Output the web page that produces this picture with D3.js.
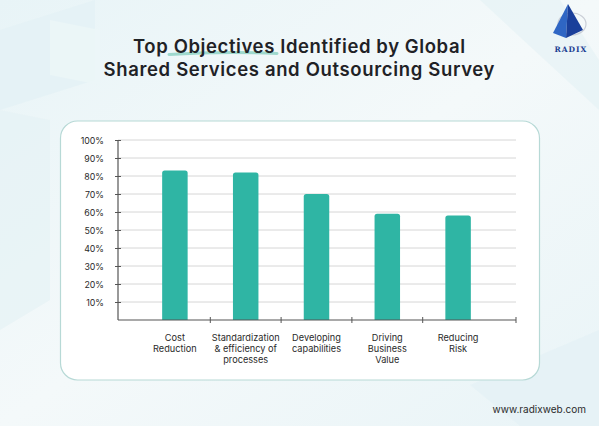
<!DOCTYPE html>
<html lang="en">
<head>
<meta charset="utf-8">
<title>Top Objectives</title>
<style>
body{
  margin: 0;
  background: #eef7f9;
}
svg text{
  font-family: "Inter", "Open Sans", sans-serif;
}
.title{
  font-size: 18.5px;
  font-weight: 600;
  fill: #1f2226;
  text-anchor: middle;
}
.ylab{
  fill: #2a2a2a;
  text-anchor: end;
}
.xlab{
  font-size: 9.2px;
  fill: #2a2a2a;
  text-anchor: middle;
}
</style>
</head>
<body>
<div id="chart"></div>
<script src="https://d3js.org/d3.v7.min.js"></script>
<script>
var categories = [
  ["Cost", "Reduction"],
  ["Standardization", "& efficiency of", "processes"],
  ["Developing", "capabilities"],
  ["Driving", "Business", "Value"],
  ["Reducing", "Risk"]
];
var values = [83, 82, 70, 59, 58];
var yTicks = [10, 20, 30, 40, 50, 60, 70, 80, 90, 100];
var titleLines = ["Top Objectives Identified by Global", "Shared Services and Outsourcing Survey"];
var titleWidths = [332, 391];

var W = 599, H = 426;
var svg = d3.select("#chart").append("svg")
  .attr("width", W)
  .attr("height", H)
  .style("display", "block");

// background
var defs = svg.append("defs");
var bg = defs.append("linearGradient").attr("id", "bg")
  .attr("x1", 0).attr("y1", 0).attr("x2", 1).attr("y2", 1);
bg.append("stop").attr("offset", 0).attr("stop-color", "#e8f4f7");
bg.append("stop").attr("offset", 0.5).attr("stop-color", "#f4f9fa");
bg.append("stop").attr("offset", 1).attr("stop-color", "#e9f4f7");
svg.append("rect").attr("width", W).attr("height", H).attr("fill", "url(#bg)");

// faint shapes
svg.append("path").attr("d", "M0,30 L95,0 L95,80 L0,110 Z").attr("fill", "#e3f1f5").attr("opacity", 0.8);
svg.append("path").attr("d", "M50,20 L100,30 L100,85 L50,75 Z").attr("fill", "#ecf6f8").attr("opacity", 0.8);
svg.append("path").attr("d", "M0,110 L50,120 L50,300 L0,330 Z").attr("fill", "#e5f2f5").attr("opacity", 0.7);
svg.append("path").attr("d", "M480,0 L560,0 L599,60 L599,110 Z").attr("fill", "#e6f2f5").attr("opacity", 0.7);
svg.append("path").attr("d", "M470,385 L599,330 L599,426 L520,426 Z").attr("fill", "#e4f1f5").attr("opacity", 0.7);

// title
var title = svg.append("g");
title.append("path")
  .attr("d", "M169,54.5 Q223,51 277,53.5")
  .attr("fill", "none").attr("stroke", "#9ed8cd").attr("stroke-width", 3)
  .attr("stroke-linecap", "round");
title.selectAll("text").data(titleLines).enter().append("text")
  .attr("class", "title")
  .attr("x", 299)
  .attr("y", (d, i) => 53 + i * 22.5)
  .attr("textLength", (d, i) => titleWidths[i])
  .attr("lengthAdjust", "spacing")
  .text((d) => d);

// logo
var logo = svg.append("g");
logo.append("ellipse").attr("cx", 572).attr("cy", 24).attr("rx", 14).attr("ry", 11)
  .attr("fill", "none").attr("stroke", "#c9ced6").attr("stroke-width", 1.2);
logo.append("path").attr("d", "M568,4 L553,33 L566,38 Z").attr("fill", "#2f66c4");
logo.append("path").attr("d", "M568,4 L566,38 L583,30 Z").attr("fill", "#1a3f9a");
logo.append("text").attr("x", 571).attr("y", 52)
  .attr("text-anchor", "middle")
  .style("font-family", "'DejaVu Serif', serif")
  .style("font-weight", "bold").style("font-size", "7.5px")
  .style("letter-spacing", "1px").attr("fill", "#1d3f93")
  .text("RADIX");

// card
svg.append("rect")
  .attr("x", 60.5).attr("y", 121).attr("width", 479).attr("height", 259)
  .attr("rx", 17).attr("fill", "#ffffff")
  .attr("stroke", "#b7d9d6").attr("stroke-width", 1.2);

// scales
var y = d3.scaleLinear().domain([0, 100]).range([320, 140]);
var x = d3.scaleBand()
  .domain(d3.range(categories.length))
  .range([139.5, 493.5])
  .padding(0);
var barW = x.bandwidth() * 0.36;
var axisLeft = 118, axisRight = 516;

var graph = svg.append("g");

// gridlines
graph.selectAll("line.grid").data(yTicks).enter().append("line")
  .attr("class", "grid")
  .attr("x1", axisLeft).attr("x2", axisRight)
  .attr("y1", (d) => y(d)).attr("y2", (d) => y(d))
  .attr("stroke", "#d6d6d6").attr("stroke-width", 1);

// y axis
var yAxis = d3.axisLeft(y).tickValues(yTicks).tickSize(3).tickFormat((d) => d + "%");
var yG = graph.append("g").attr("transform", `translate(${axisLeft},0)`).call(yAxis);
yG.select(".domain").remove();
yG.selectAll(".tick line").attr("x2", -3).attr("x1", 3).attr("stroke", "#555");
yG.selectAll(".tick text").attr("class", "ylab").attr("x", -14).attr("dy", "0.34em")
  .style("font-size", "8.8px").style("font-family", null);
graph.append("line")
  .attr("x1", axisLeft).attr("x2", axisLeft)
  .attr("y1", y(100)).attr("y2", y(0))
  .attr("stroke", "#555").attr("stroke-width", 1.2);

// bars
graph.selectAll("path.bar").data(values).enter().append("path")
  .attr("class", "bar")
  .attr("fill", "#2fb5a4")
  .attr("d", (d, i) => {
    var x0 = x(i) + (x.bandwidth() - barW) / 2, x1 = x0 + barW;
    var t = y(d), b = y(0), r = 2.5;
    return `M${x0},${b} L${x0},${t + r} Q${x0},${t} ${x0 + r},${t} L${x1 - r},${t} Q${x1},${t} ${x1},${t + r} L${x1},${b} Z`;
  });

// x axis
graph.append("line")
  .attr("x1", axisLeft).attr("x2", axisRight)
  .attr("y1", y(0)).attr("y2", y(0))
  .attr("stroke", "#555").attr("stroke-width", 1.2);
var tickXs = d3.range(1, categories.length).map((i) => x(i)).concat([axisRight]);
graph.selectAll("line.xtick").data(tickXs).enter().append("line")
  .attr("class", "xtick")
  .attr("x1", (d) => d).attr("x2", (d) => d)
  .attr("y1", y(0) - 3).attr("y2", y(0) + 3)
  .attr("stroke", "#555");

var xl = graph.selectAll("text.xlab").data(categories).enter().append("text")
  .attr("class", "xlab")
  .attr("x", (d, i) => x(i) + x.bandwidth() / 2)
  .attr("y", 341);
xl.selectAll("tspan").data((d) => d).enter().append("tspan")
  .attr("x", function () { return d3.select(this.parentNode).attr("x"); })
  .attr("dy", (d, i) => i === 0 ? 0 : 11)
  .text((d) => d);

// footer
svg.append("text")
  .attr("x", 586).attr("y", 413)
  .attr("text-anchor", "end")
  .style("font-size", "10px").attr("fill", "#2b2b2b")
  .text("www.radixweb.com");
</script>
</body>
</html>
